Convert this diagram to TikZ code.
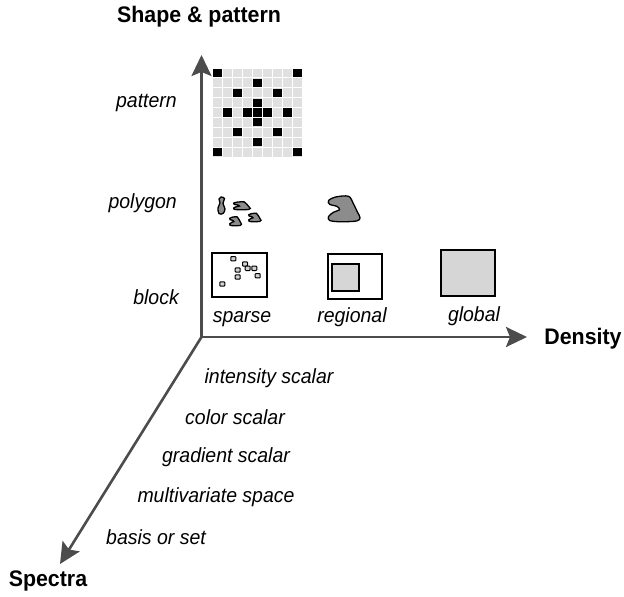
\documentclass[tikz,border=0pt]{standalone}
\usepackage{fontspec}
\setmainfont{Liberation Sans}[FakeStretch=0.95]
\usetikzlibrary{arrows.meta, positioning}

\begin{document}
\begin{tikzpicture}[
      x=1pt, y=-1pt,
      axis/.style={draw=black!70, line width=2.6pt, -{Stealth[length=21pt, width=20pt, inset=4pt]}},
      title/.style={inner sep=0pt, font=\fontsize{22.5}{24}\selectfont\bfseries},
      lab/.style={inner sep=0pt, font=\fontsize{20.5}{22}\selectfont\itshape},
      box/.style={draw, line width=1.6pt, inner sep=0pt},
      shade/.style={box, fill=black!16},
      speck/.style={draw, line width=1pt, fill=black!18, rounded corners=0.8pt},
      blob/.style={draw, line width=1.3pt, fill=black!45},
      notch/.pic={
        \path[blob] plot[smooth cycle, tension=0.55] coordinates {
          (0.02,0.17) (0.23,0.04) (0.64,0.01) (0.79,0.29) (0.92,0.62) (1,0.83)
          (0.9,0.96) (0.38,0.99) (0.05,0.94) (0.02,0.78) (0.18,0.62) (0.36,0.53)
          (0.28,0.4) (0.05,0.32)};
      }
    ]
    \useasboundingbox (0,0) rectangle (624,597);

    % axes
    \coordinate (origin) at (201.5,337);
    \coordinate (shapeend) at (201.5,55);
    \coordinate (densityend) at (527,337);
    \coordinate (spectraend) at (60,564);
    \draw[axis] (origin) -- (shapeend);
    \draw[axis] (origin) -- (densityend);
    \draw[axis] (origin) -- (spectraend);

    \node[title] (shapetitle) at (199,17) {Shape \& pattern};
    \node[title] (densitytitle) at (583,339) {Density};
    \node[title] (spectratitle) at (48,581) {Spectra};

    % shape levels
    \node[lab, anchor=east] (pattern) at (177,103) {pattern};
    \node[lab, anchor=east] (polygon) at (177,203) {polygon};
    \node[lab, anchor=east] (block) at (179,297) {block};

    % density levels
    \node[lab] (sparse) at (242,319) {sparse};
    \node[lab] (regional) at (352,317) {regional};
    \node[lab] (global) at (474,316) {global};

    % spectra levels
    \node[lab] (intensity) at (269,378) {intensity scalar};
    \node[lab] (color) at (235,417) {color scalar};
    \node[lab] (gradient) at (226,457) {gradient scalar};
    \node[lab] (multivariate) at (216,497) {multivariate space};
    \node[lab] (basis) at (156,537) {basis or set};

    % pattern grid
    \fill[black!12] (212.5,68) rectangle (302.5,157);
    \foreach \i in {0,...,9} {
      \draw[white, line width=1pt] (212.5+\i*10,68) -- ++(0,89);
      \draw[white, line width=1pt] (212.5,68+\i*9.89) -- ++(90,0);
    }
    \foreach \c/\r in {0/0,8/0,4/1,2/2,6/2,4/3,1/4,3/4,4/4,5/4,7/4,4/5,2/6,6/6,4/7,0/8,8/8}
      \fill (213.4+\c*10,68.9+\r*9.89) rectangle ++(8.2,8.1);

    % polygons
    \path[blob] plot[smooth cycle, tension=0.6] coordinates {
      (221,197) (224.5,198.5) (223,203.5) (225,209) (223,213.5) (219,213.5) (218,208) (220,203) (219,199)};
    \pic[xscale=17, yscale=8] at (233.3,201.8) {notch};
    \pic[xscale=12, yscale=9] at (229.5,216.8) {notch};
    \pic[xscale=12.5, yscale=8.5] at (248.5,213.3) {notch};
    \pic[xscale=32, yscale=26] at (328,196) {notch};

    % blocks
    \node[box, minimum width=55pt, minimum height=44pt] (sparsebox) at (239.5,275) {};
    \foreach \x/\y in {233.3/258.7, 245/264, 237.7/270, 247.7/268.3, 254.3/268.3, 237.7/277, 257.7/275.7, 222.3/284}
      \path[speck] (\x-2.5,\y-2.2) rectangle ++(5,4.4);
    \node[box, minimum width=54pt, minimum height=45pt] (regionalbox) at (355,276.5) {};
    \node[shade, minimum width=27pt, minimum height=27pt] (regionalfill) at (345.5,277.5) {};
    \node[shade, minimum width=54pt, minimum height=46pt] (globalbox) at (468,273) {};
  \end{tikzpicture}
\end{document}
